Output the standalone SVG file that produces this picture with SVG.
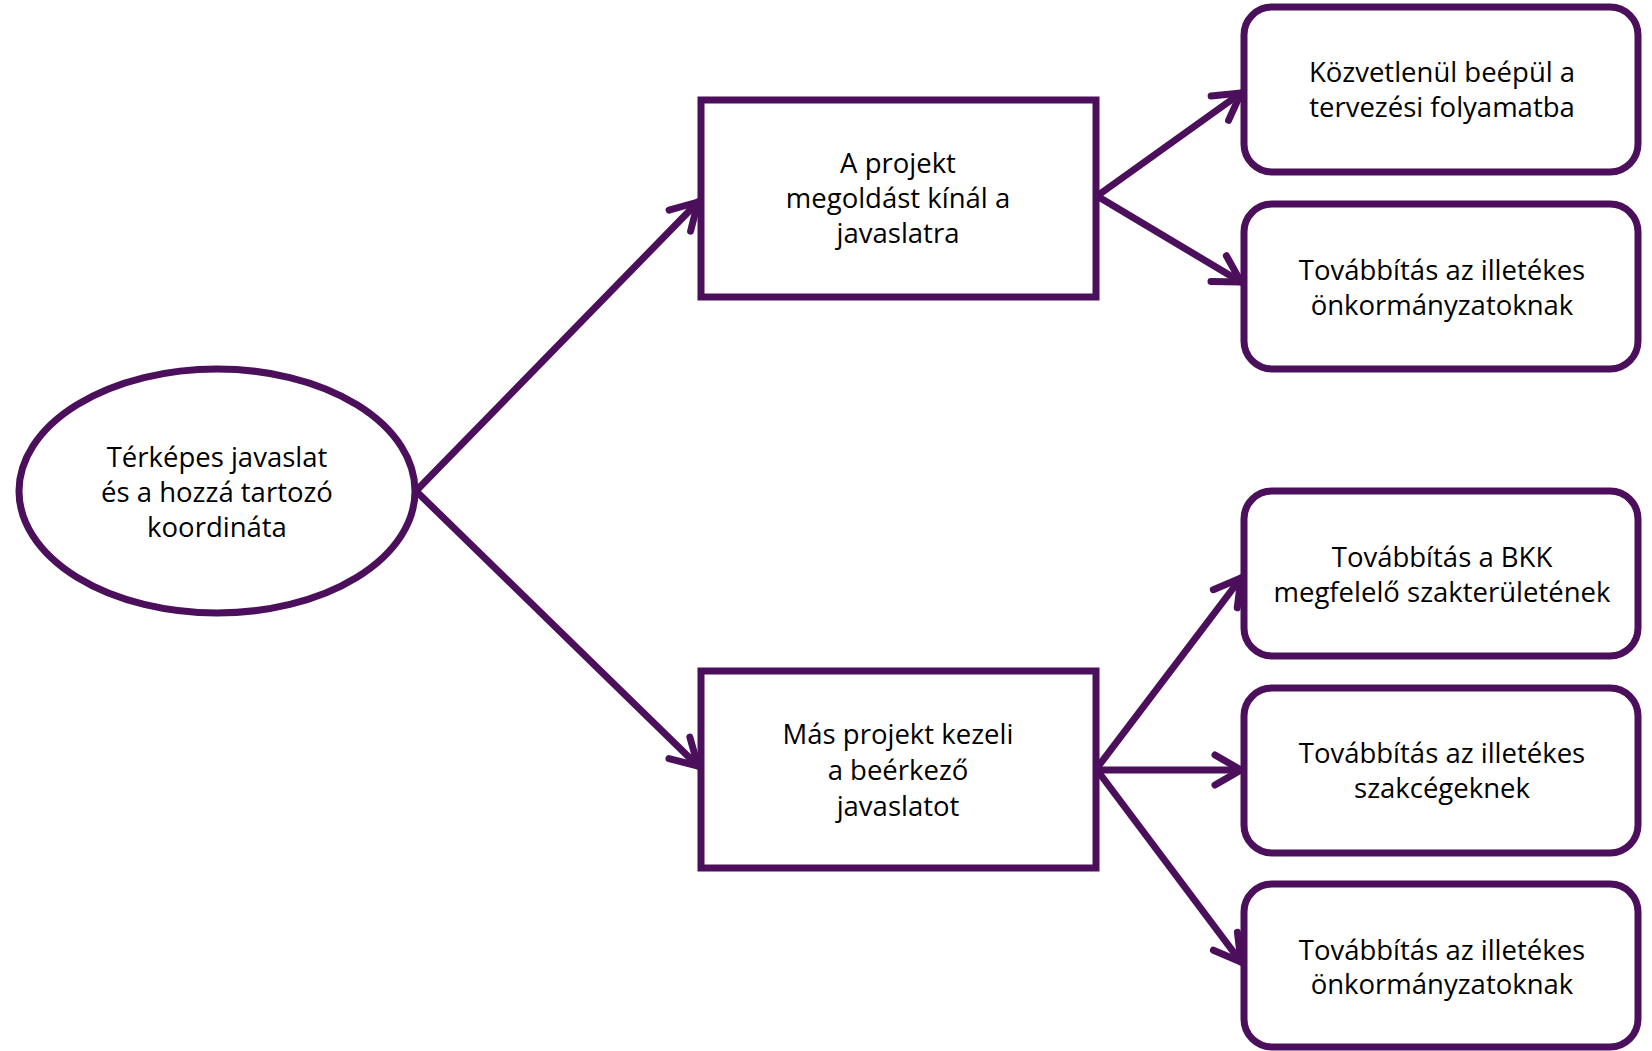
<svg xmlns="http://www.w3.org/2000/svg" width="1652" height="1051" viewBox="0 0 1652 1051">
<style>
.n{fill:#fff;stroke:#4b0f5b;stroke-width:7}
.c{fill:none;stroke:#4b0f5b;stroke-width:7;stroke-linecap:round}
text{font-family:"Open Sans","Noto Sans",sans-serif;font-size:27.5px;fill:#000;text-anchor:middle}
</style>
<defs>
<marker id="ah" markerUnits="userSpaceOnUse" markerWidth="44" markerHeight="44" refX="33" refY="22" orient="auto" viewBox="0 0 44 44">
<path d="M7 7 L33 22 L7 37" fill="none" stroke="#4b0f5b" stroke-width="7" stroke-linecap="round" stroke-linejoin="round"/>
</marker>
</defs>
<rect width="1652" height="1051" fill="#fff"/>
<g id="connectors">
<line class="c" x1="416" y1="491" x2="698" y2="202" marker-end="url(#ah)"/>
<line class="c" x1="416" y1="491" x2="698" y2="766" marker-end="url(#ah)"/>
<line class="c" x1="1097" y1="196" x2="1241" y2="93" marker-end="url(#ah)"/>
<line class="c" x1="1097" y1="196" x2="1241" y2="282" marker-end="url(#ah)"/>
<line class="c" x1="1097" y1="768" x2="1241" y2="578" marker-end="url(#ah)"/>
<line class="c" x1="1097" y1="770" x2="1241" y2="770" marker-end="url(#ah)"/>
<line class="c" x1="1097" y1="770" x2="1241" y2="962" marker-end="url(#ah)"/>
</g>
<g id="start">
<ellipse class="n" cx="217" cy="491" rx="198" ry="122"/>
<text x="217" y="467">Térképes javaslat</text>
<text x="217" y="502">és a hozzá tartozó</text>
<text x="217" y="537">koordináta</text>
</g>
<g id="boxA">
<rect class="n" x="701" y="100" width="395" height="197"/>
<text x="898" y="173">A projekt</text>
<text x="898" y="208">megoldást kínál a</text>
<text x="898" y="243">javaslatra</text>
</g>
<g id="boxB">
<rect class="n" x="701" y="671" width="395" height="197"/>
<text x="898" y="744">Más projekt kezeli</text>
<text x="898" y="780">a beérkező</text>
<text x="898" y="816">javaslatot</text>
</g>
<g id="r1">
<rect class="n" x="1244" y="7" width="394" height="165" rx="28"/>
<text x="1442" y="82">Közvetlenül beépül a</text>
<text x="1442" y="117">tervezési folyamatba</text>
</g>
<g id="r2">
<rect class="n" x="1244" y="204" width="394" height="165" rx="28"/>
<text x="1442" y="280">Továbbítás az illetékes</text>
<text x="1442" y="315">önkormányzatoknak</text>
</g>
<g id="r3">
<rect class="n" x="1244" y="491" width="394" height="165" rx="28"/>
<text x="1442" y="567">Továbbítás a BKK</text>
<text x="1442" y="602">megfelelő szakterületének</text>
</g>
<g id="r4">
<rect class="n" x="1244" y="688" width="394" height="165" rx="28"/>
<text x="1442" y="763">Továbbítás az illetékes</text>
<text x="1442" y="798">szakcégeknek</text>
</g>
<g id="r5">
<rect class="n" x="1244" y="884" width="394" height="163" rx="28"/>
<text x="1442" y="960">Továbbítás az illetékes</text>
<text x="1442" y="994">önkormányzatoknak</text>
</g>
</svg>
